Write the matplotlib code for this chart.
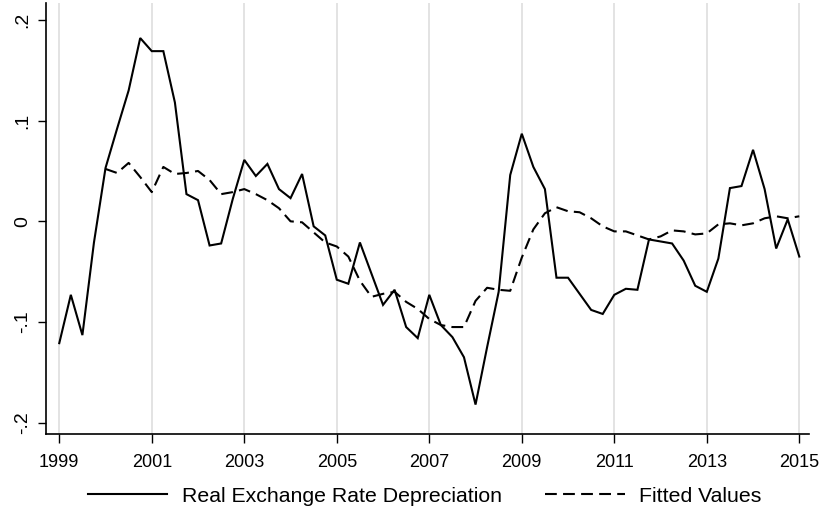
import numpy as np
import matplotlib
matplotlib.use("Agg")
import matplotlib.pyplot as plt
from matplotlib.ticker import FixedLocator, FixedFormatter

plt.rcParams['font.family'] = ['Liberation Sans', 'DejaVu Sans']
plt.rcParams['lines.scale_dashes'] = False

# Quarterly observations, 1999Q1 - 2015Q1
start_year = 1999
rer_depreciation = [
    -0.121, -0.073, -0.113, -0.021,
    0.053, 0.092, 0.130, 0.182,
    0.169, 0.169, 0.118, 0.027,
    0.021, -0.024, -0.022, 0.022,
    0.061, 0.045, 0.057, 0.032,
    0.023, 0.047, -0.005, -0.014,
    -0.058, -0.062, -0.021, -0.052,
    -0.083, -0.068, -0.105, -0.116,
    -0.073, -0.103, -0.115, -0.135,
    -0.182, -0.125, -0.070, 0.046,
    0.087, 0.054, 0.032, -0.056,
    -0.056, -0.072, -0.088, -0.092,
    -0.073, -0.067, -0.068, -0.018,
    -0.020, -0.022, -0.039, -0.064,
    -0.070, -0.037, 0.033, 0.035,
    0.071, 0.032, -0.027, 0.002,
    -0.035,
]
fitted_values = [
    np.nan, np.nan, np.nan, np.nan,
    0.052, 0.048, 0.058, 0.044,
    0.029, 0.054, 0.047, 0.048,
    0.050, 0.041, 0.027, 0.029,
    0.032, 0.027, 0.021, 0.013,
    0.000, -0.001, -0.011, -0.021,
    -0.025, -0.035, -0.059, -0.075,
    -0.072, -0.070, -0.080, -0.087,
    -0.097, -0.103, -0.105, -0.105,
    -0.079, -0.066, -0.068, -0.069,
    -0.036, -0.008, 0.008, 0.014,
    0.010, 0.009, 0.003, -0.005,
    -0.010, -0.010, -0.014, -0.018,
    -0.015, -0.009, -0.010, -0.013,
    -0.012, -0.003, -0.002, -0.004,
    -0.002, 0.003, 0.005, 0.003,
    0.005,
]
x_ticks = [1999, 2001, 2003, 2005, 2007, 2009, 2011, 2013, 2015]
y_ticks = [-0.2, -0.1, 0.0, 0.1, 0.2]
y_tick_labels = ["-.2", "-.1", "0", ".1", ".2"]
series_labels = ["Real Exchange Rate Depreciation", "Fitted Values"]

t = start_year + np.arange(len(rer_depreciation)) / 4.0

fig = plt.figure(figsize=(8.2, 5.18), dpi=100)
ax = fig.add_axes([0.0557, 0.1616, 0.9309, 0.8326])

for xv in x_ticks:
    ax.axvline(xv, color="#e3e3e3", lw=1.4, zorder=0)

ax.plot(t, rer_depreciation, color="black", lw=1.5, label=series_labels[0],
        solid_joinstyle="miter")
ax.plot(t, fitted_values, color="black", lw=1.5, dashes=(8.5, 4.5),
        label=series_labels[1])

ax.set_xlim(1998.706, 2015.21)
ax.set_ylim(-0.2115, 0.2168)

ax.xaxis.set_major_locator(FixedLocator(x_ticks))
ax.yaxis.set_major_locator(FixedLocator(y_ticks))
ax.yaxis.set_major_formatter(FixedFormatter(y_tick_labels))
for lab in ax.get_yticklabels():
    lab.set_rotation(90)
    lab.set_va("center")

ax.tick_params(axis="x", length=6.5, width=1, labelsize=13, pad=7.5)
ax.tick_params(axis="y", length=6, width=1, labelsize=14, pad=4.5)

for side in ("top", "right"):
    ax.spines[side].set_visible(False)
for side in ("left", "bottom"):
    ax.spines[side].set_linewidth(1.2)

handles, labels = ax.get_legend_handles_labels()
fig.legend(handles, labels, loc="center", bbox_to_anchor=(0.518, 0.042),
           ncol=2, frameon=False, fontsize=15.3, handlelength=3.75,
           handletextpad=0.7, columnspacing=2.0)

fig.savefig("out.png", dpi=100)
